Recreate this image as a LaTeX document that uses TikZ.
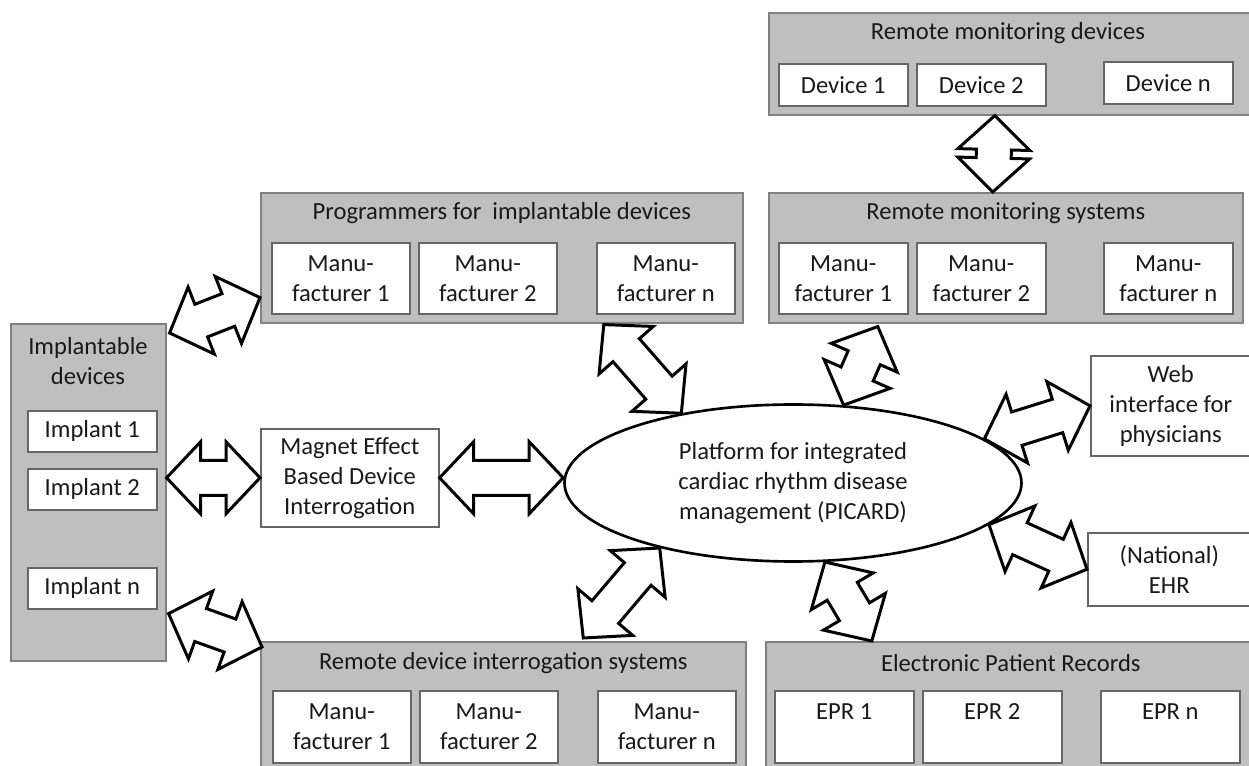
\documentclass[tikz,border=0pt]{standalone}
\usepackage{fontspec}
\setmainfont{Carlito}
\usetikzlibrary{calc}
\usetikzlibrary{shapes.geometric}

\newcommand{\unitpx}{0.02cm}
\newcommand{\arrowlen}{0.68cm}
\newcommand{\arrowwide}{0.72cm}
\newcommand{\arrowshaft}{0.35cm}

% hollow two-way block arrow between two points
\newcommand{\twowayarrow}[2]{%
  \path (#1) coordinate (ba-s) (#2) coordinate (ba-e);
  \coordinate (ba-p) at ($(ba-s)!\arrowlen!(ba-e)$);
  \coordinate (ba-q) at ($(ba-e)!\arrowlen!(ba-s)$);
  \draw [block arrow] (ba-s)
    -- ($(ba-p)!\arrowwide!90:(ba-e)$) -- ($(ba-p)!\arrowshaft!90:(ba-e)$)
    -- ($(ba-q)!\arrowshaft!-90:(ba-s)$) -- ($(ba-q)!\arrowwide!-90:(ba-s)$)
    -- (ba-e)
    -- ($(ba-q)!\arrowwide!90:(ba-s)$) -- ($(ba-q)!\arrowshaft!90:(ba-s)$)
    -- ($(ba-p)!\arrowshaft!-90:(ba-e)$) -- ($(ba-p)!\arrowwide!-90:(ba-e)$)
    -- cycle;
}

\tikzset{
  group box/.style={draw=black!50, fill=black!25, line width=0.9pt, anchor=north west, inner sep=0pt},
  item box/.style={draw=black!60, fill=white, line width=0.9pt, anchor=north west, align=center, inner sep=0pt},
  group title/.style={inner sep=0pt, align=center},
  block arrow/.style={draw=black, line width=1.7pt, line join=miter},
}

\begin{document}
\begin{tikzpicture}[x=0.02cm, y=-0.02cm, font=\fontsize{14}{17}\selectfont, text=black!90]
\useasboundingbox (0,0) rectangle (1249,766);

% remote monitoring devices
\node [group box, minimum width=484*\unitpx, minimum height=102*\unitpx] (rmd) at (768,12) {};
\node [group title] (rmd-title) at (1008,33) {Remote monitoring devices};
\foreach \l/\x/\y [count=\i] in {1/778/63, 2/916/63, n/1103/61}
  \node [item box, minimum width=129*\unitpx, minimum height=42*\unitpx] (device-\i) at (\x,\y) {Device \l};

% programmers
\node [group box, minimum width=482*\unitpx, minimum height=130*\unitpx] (prog) at (260,192) {};
\node [group title] (prog-title) at ($(prog.north)+(0,21)$) {Programmers for \ implantable devices};
\foreach \l/\x [count=\i] in {1/271, 2/418, n/596}
  \node [item box, minimum width=138*\unitpx, minimum height=71*\unitpx] (prog-\i) at (\x,242) {Manu-\\facturer \l};

% remote monitoring systems
\node [group box, minimum width=474*\unitpx, minimum height=130*\unitpx] (rms) at (768,192) {};
\node [group title] (rms-title) at ($(rms.north)+(0,21)$) {Remote monitoring systems};
\foreach \l/\x [count=\i] in {1/778, 2/916, n/1103}
  \node [item box, minimum width=129*\unitpx, minimum height=71*\unitpx] (rms-\i) at (\x,242) {Manu-\\facturer \l};

% implantable devices
\node [group box, minimum width=155*\unitpx, minimum height=337*\unitpx] (imp) at (10,323) {};
\node [group title] (imp-title) at (88,361) {Implantable\\devices};
\foreach \l/\y [count=\i] in {1/410, 2/468, n/567}
  \node [item box, minimum width=129*\unitpx, minimum height=41*\unitpx] (implant-\i) at (27,\y) {Implant \l};

\node [item box, minimum width=178*\unitpx, minimum height=98*\unitpx] (magnet) at (260,428) {Magnet Effect\\Based Device\\Interrogation};

\node [ellipse, draw, line width=1.5pt, inner sep=0pt, align=center,
  minimum width=457*\unitpx, minimum height=157*\unitpx] (picard) at (793,483)
  {Platform for integrated\\cardiac rhythm disease\\management (PICARD)};

\node [item box, minimum width=160*\unitpx, minimum height=100*\unitpx] (web) at (1090,355) {Web\\interface for\\physicians};
\node [item box, minimum width=163*\unitpx, minimum height=73*\unitpx] (ehr) at (1087,532) {(National)\\EHR};

% remote device interrogation systems
\node [group box, minimum width=485*\unitpx, minimum height=130*\unitpx] (rdi) at (260,641) {};
\node [group title] (rdi-title) at ($(rdi.north)+(0,22)$) {Remote device interrogation systems};
\foreach \l/\x [count=\i] in {1/272, 2/419, n/597}
  \node [item box, minimum width=138*\unitpx, minimum height=72*\unitpx] (rdi-\i) at (\x,690) {Manu-\\facturer \l};

% electronic patient records
\node [group box, minimum width=490*\unitpx, minimum height=130*\unitpx] (epr) at (765,641) {};
\node [group title] (epr-title) at ($(epr.north)+(0,22)$) {Electronic Patient Records};
\foreach \l/\x [count=\i] in {1/774, 2/922, n/1100}
  \node [item box, minimum width=139*\unitpx, minimum height=72*\unitpx] (epr-\i) at (\x,690) {EPR \l\\\mbox{}};

% arrows
\twowayarrow{$(rmd.south)+(-16,0)$}{$(rms.north)+(-13,0)$}
\twowayarrow{$(imp.north east)+(3,10)$}{$(prog.south west)+(0,-26)$}
\twowayarrow{imp.east |- magnet.west}{magnet.west}
\twowayarrow{magnet.east}{magnet.east -| picard.west}
\twowayarrow{$(imp.south east)+(2,-48)$}{$(rdi.north west)+(2,6)$}
\twowayarrow{$(prog.south)+(102,1)$}{picard.148}
\twowayarrow{$(rms.south)+(-128,3)$}{picard.57}
\twowayarrow{picard.13}{web.west}
\twowayarrow{picard.-12}{ehr.west}
\twowayarrow{picard.206}{$(rdi.north)+(80,-3)$}
\twowayarrow{picard.292}{$(epr.north)+(-139,0)$}

\end{tikzpicture}
\end{document}
